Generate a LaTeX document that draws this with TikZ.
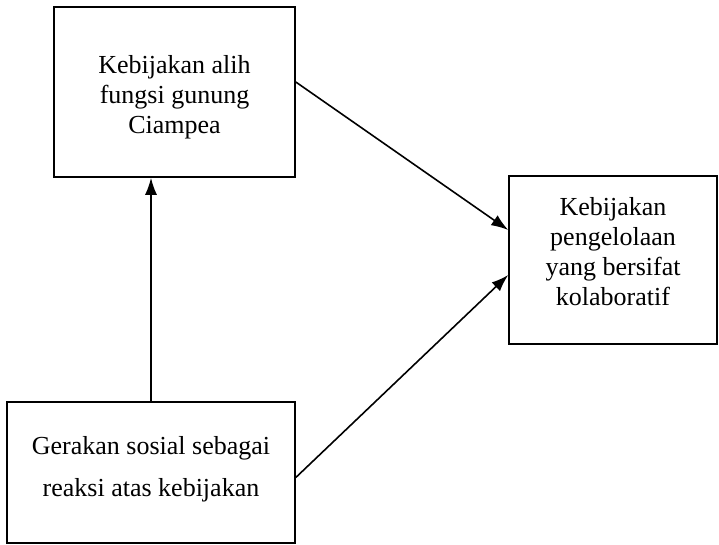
\documentclass[tikz,border=0pt]{standalone}
\usepackage{fontspec}
\setmainfont{Liberation Serif}
\usetikzlibrary{arrows.meta,calc,positioning}

\begin{document}
\begin{tikzpicture}[x=1pt,y=1pt,
  kotak/.style={draw,line width=1.6pt,inner sep=0pt,minimum width=#1},
  teks/.style={align=center,inner sep=0pt,font=\fontsize{26}{#1}\selectfont},
  panah/.style={-{Latex[length=17pt,width=12pt]},line width=1.6pt}]
  \useasboundingbox (0,0) rectangle (719,-545);
  \node[kotak=241pt,minimum height=170pt] (alih) at (174.5,-92) {};
  \node[kotak=208pt,minimum height=168pt] (kolab) at (613,-260) {};
  \node[kotak=288pt,minimum height=141pt] (gerak) at (151,-472.5) {};
  \node[teks=30pt] (alihteks) at ([yshift=-5pt]alih.center) {Kebijakan alih\\fungsi gunung\\Ciampea};
  \node[teks=30pt] (kolabteks) at ([yshift=8pt]kolab.center) {Kebijakan\\pengelolaan\\yang bersifat\\kolaboratif};
  \node[teks=42pt] (gerakteks) at ([yshift=3pt]gerak.center) {Gerakan sosial sebagai\\reaksi atas kebijakan};
  \draw[panah] ([yshift=10pt]alih.east) -- ([yshift=30pt]kolab.west);
  \draw[panah] ([yshift=-5pt]gerak.east) -- ([yshift=-15pt]kolab.west);
  \draw[panah] (gerak.north) -- (gerak.north |- alih.south);
\end{tikzpicture}
\end{document}
